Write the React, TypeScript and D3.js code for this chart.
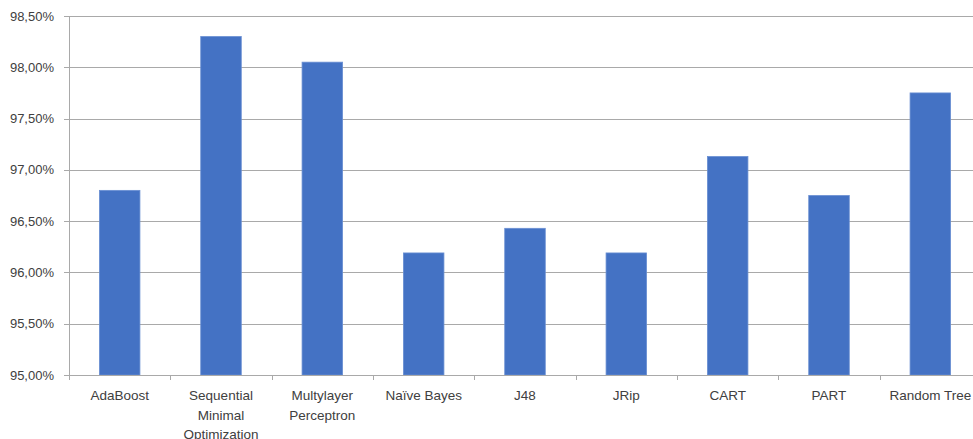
import React from "react";
import * as d3 from "d3";

// Classifier accuracy (%), one bar per algorithm
const categories: string[] = [
  "AdaBoost",
  "Sequential Minimal Optimization",
  "Multylayer Perceptron",
  "Naïve Bayes",
  "J48",
  "JRip",
  "CART",
  "PART",
  "Random Tree",
];
const labelLines: string[][] = [
  ["AdaBoost"],
  ["Sequential", "Minimal", "Optimization"],
  ["Multylayer", "Perceptron"],
  ["Naïve Bayes"],
  ["J48"],
  ["JRip"],
  ["CART"],
  ["PART"],
  ["Random Tree"],
];
const accuracy: number[] = [96.8, 98.3, 98.05, 96.19, 96.43, 96.19, 97.13, 96.75, 97.75];
const yTicks: number[] = [95, 95.5, 96, 96.5, 97, 97.5, 98, 98.5];

const W = 973;
const H = 439;
const left = 69;
const right = 981;
const top = 16;
const bottom = 375;

const FONT = "'Liberation Sans', Arial, sans-serif";
const TEXT = "#404040";
const GRID = "#a9a9a9";

export default function App() {
  const x = d3
    .scaleBand<string>()
    .domain(categories)
    .range([left, right])
    .paddingInner(0.6)
    .paddingOuter(0.3);
  const y = d3.scaleLinear().domain([95, 98.5]).range([bottom, top]);
  const step = x.step();
  const bw = x.bandwidth();
  const fmt = (v: number) => d3.format(".2f")(v).replace(".", ",") + "%";

  const boundaries = categories.map((c) => (x(c) as number) + bw / 2 - step / 2);
  boundaries.push((x(categories[categories.length - 1]) as number) + bw / 2 + step / 2);

  return (
    <svg
      width={W}
      height={H}
      style={{ position: "absolute", left: 0, top: 0, background: "#fff" }}
    >
      <rect x={0} y={0} width={W} height={H} fill="#fff" />
      {/* horizontal gridlines and value labels */}
      {yTicks.map((t) => (
        <g key={t}>
          <line
            x1={left - 5}
            x2={right}
            y1={Math.round(y(t)) + 0.5}
            y2={Math.round(y(t)) + 0.5}
            stroke={GRID}
            strokeWidth={1}
          />
          <text
            x={54}
            y={y(t)}
            dy="0.35em"
            textAnchor="end"
            fontFamily={FONT}
            fontSize={13}
            fill={TEXT}
          >
            {fmt(t)}
          </text>
        </g>
      ))}
      {/* vertical axis */}
      <line
        x1={left + 0.5}
        x2={left + 0.5}
        y1={top}
        y2={bottom}
        stroke={GRID}
        strokeWidth={1}
      />
      {/* bars */}
      {categories.map((c, i) => (
        <rect
          key={c}
          x={x(c)}
          y={y(accuracy[i])}
          width={bw}
          height={bottom - y(accuracy[i])}
          fill="#4472C4"
          stroke="#6a8fd3"
          strokeWidth={0.8}
        />
      ))}
      {/* category axis with ticks between bands */}
      <line
        x1={left}
        x2={right}
        y1={bottom + 0.5}
        y2={bottom + 0.5}
        stroke={GRID}
        strokeWidth={1}
      />
      {boundaries.map((b, i) => (
        <line
          key={i}
          x1={Math.round(b) + 0.5}
          x2={Math.round(b) + 0.5}
          y1={bottom}
          y2={bottom + 5}
          stroke={GRID}
          strokeWidth={1}
        />
      ))}
      {categories.map((c, i) => (
        <text
          key={c}
          x={(x(c) as number) + bw / 2}
          y={400}
          textAnchor="middle"
          fontFamily={FONT}
          fontSize={13.5}
          fill={TEXT}
        >
          {labelLines[i].map((ln, j) => (
            <tspan key={j} x={(x(c) as number) + bw / 2} dy={j === 0 ? 0 : 19.6}>
              {ln}
            </tspan>
          ))}
        </text>
      ))}
    </svg>
  );
}
